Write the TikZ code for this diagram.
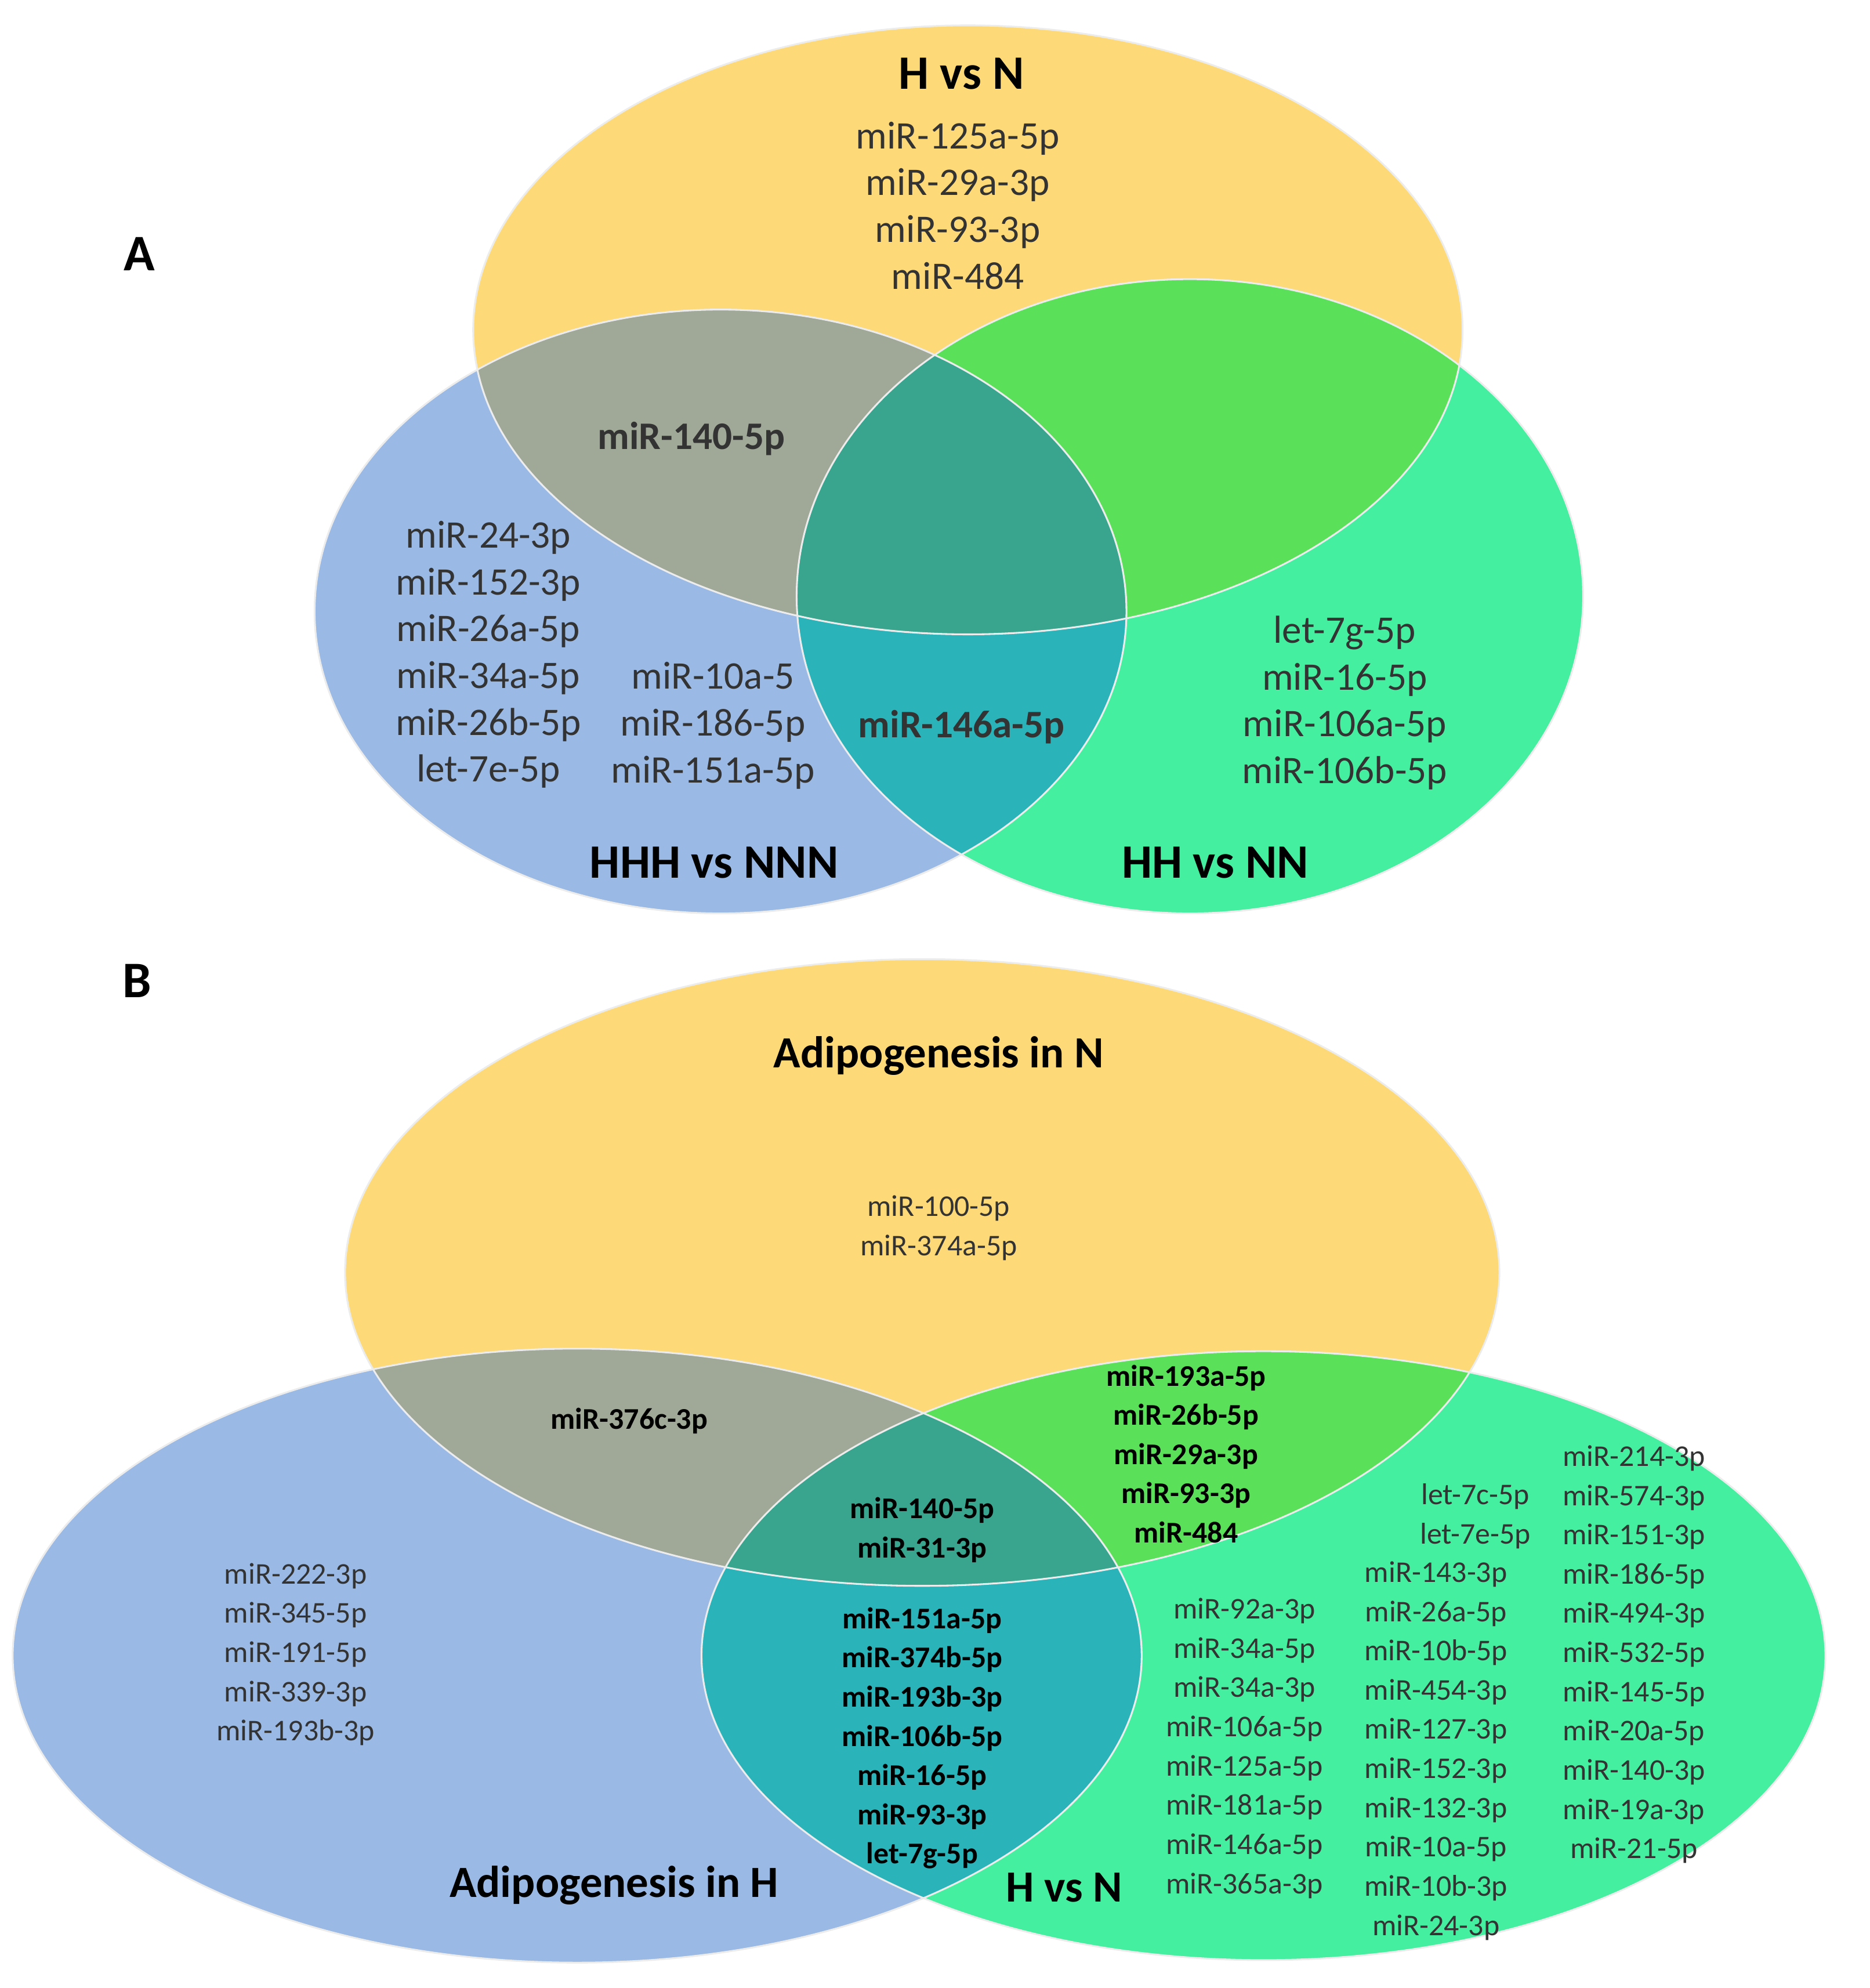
\documentclass[tikz,border=0pt]{standalone}
\usepackage{fontspec}
\setmainfont{Carlito}
\begin{document}
\begin{tikzpicture}[x=0.02cm,y=-0.02cm,
  la/.style={text=black!80,align=center,font=\fontsize{17.5}{21}\selectfont,inner sep=0pt},
  lab/.style={la,font=\fontsize{17.5}{21}\selectfont\bfseries},
  lb/.style={text=black!80,align=center,font=\fontsize{13.5}{17.6}\selectfont,inner sep=0pt},
  lbb/.style={lb,font=\fontsize{13.5}{17.6}\selectfont\bfseries,text=black},
  ttl/.style={text=black,font=\fontsize{21.5}{24}\selectfont\bfseries,inner sep=0pt},
  ttlb/.style={ttl,font=\fontsize{20}{23}\selectfont\bfseries}]
\definecolor{cy}{HTML}{FDD978}
\definecolor{cb}{HTML}{9AB9E4}
\definecolor{cg}{HTML}{45EFA0}
\definecolor{cyb}{HTML}{A0A898}
\definecolor{cyg}{HTML}{5BE05A}
\definecolor{cbg}{HTML}{2AB3B8}
\definecolor{cybg}{HTML}{3AA58E}
\path[use as bounding box] (0,0) rectangle (1474,1567);
% Panel A
\def\Ya{(763,260) ellipse [x radius=390,y radius=240]}
\def\Ba{(568,482) ellipse [x radius=320,y radius=238]}
\def\Ga{(938,470) ellipse [x radius=310,y radius=250]}
\fill[cy] \Ya; \fill[cb] \Ba; \fill[cg] \Ga;
\begin{scope}\clip \Ya; \fill[cyb] \Ba; \fill[cyg] \Ga; \end{scope}
\begin{scope}\clip \Ba; \fill[cbg] \Ga; \end{scope}
\begin{scope}\clip \Ya; \clip \Ba; \fill[cybg] \Ga; \end{scope}
\draw[white!85!gray,line width=0.8pt] \Ya \Ba \Ga;
\node[ttl,font=\fontsize{23}{26}\selectfont\bfseries] (A) at (110,200) {A};
\node[ttl] (t1) at (758,58) {H vs N};
\node[la] (y1) at (755,162) {miR-125a-5p\\miR-29a-3p\\miR-93-3p\\miR-484};
\node[lab] (yb) at (545,346) {miR-140-5p};
\node[la] (b1) at (385,516) {miR-24-3p\\miR-152-3p\\miR-26a-5p\\miR-34a-5p\\miR-26b-5p\\let-7e-5p};
\node[la] (b2) at (562,572) {miR-10a-5\\miR-186-5p\\miR-151a-5p};
\node[lab] (bg) at (758,573) {miR-146a-5p};
\node[la] (g1) at (1060,554) {let-7g-5p\\miR-16-5p\\miR-106a-5p\\miR-106b-5p};
\node[ttl] (t2) at (563,680) {HHH vs NNN};
\node[ttl] (t3) at (958,680) {HH vs NN};
% Panel B
\def\Yb{(727,1003) ellipse [x radius=455,y radius=247]}
\def\Bb{(455,1305) ellipse [x radius=445,y radius=242]}
\def\Gb{(996,1305) ellipse [x radius=443,y radius=240]}
\fill[cy] \Yb; \fill[cb] \Bb; \fill[cg] \Gb;
\begin{scope}\clip \Yb; \fill[cyb] \Bb; \fill[cyg] \Gb; \end{scope}
\begin{scope}\clip \Bb; \fill[cbg] \Gb; \end{scope}
\begin{scope}\clip \Yb; \clip \Bb; \fill[cybg] \Gb; \end{scope}
\draw[white!85!gray,line width=0.8pt] \Yb \Bb \Gb;
\node[ttl,font=\fontsize{23}{26}\selectfont\bfseries] (B) at (108,773) {B};
\node[ttlb] (t4) at (740,832) {Adipogenesis in N};
\node[lb] (n1) at (740,968) {miR-100-5p\\miR-374a-5p};
\node[lbb] (n2) at (496,1120) {miR-376c-3p};
\node[lbb] (n3) at (935,1146) {miR-193a-5p\\miR-26b-5p\\miR-29a-3p\\miR-93-3p\\miR-484};
\node[lbb] (n4) at (727,1206) {miR-140-5p\\miR-31-3p};
\node[lbb] (n5) at (727,1370) {miR-151a-5p\\miR-374b-5p\\miR-193b-3p\\miR-106b-5p\\miR-16-5p\\miR-93-3p\\let-7g-5p};
\node[lb] (n6) at (233,1304) {miR-222-3p\\miR-345-5p\\miR-191-5p\\miR-339-3p\\miR-193b-3p};
\node[lb] (n7) at (981,1378) {miR-92a-3p\\miR-34a-5p\\miR-34a-3p\\miR-106a-5p\\miR-125a-5p\\miR-181a-5p\\miR-146a-5p\\miR-365a-3p};
\node[lb] (n8) at (1163,1195) {let-7c-5p\\let-7e-5p};
\node[lb] (n9) at (1132,1380) {miR-143-3p\\miR-26a-5p\\miR-10b-5p\\miR-454-3p\\miR-127-3p\\miR-152-3p\\miR-132-3p\\miR-10a-5p\\miR-10b-3p\\miR-24-3p};
\node[lb] (n10) at (1288,1304) {miR-214-3p\\miR-574-3p\\miR-151-3p\\miR-186-5p\\miR-494-3p\\miR-532-5p\\miR-145-5p\\miR-20a-5p\\miR-140-3p\\miR-19a-3p\\miR-21-5p};
\node[ttlb] (t5) at (484,1486) {Adipogenesis in H};
\node[ttlb] (t6) at (839,1488) {H vs N};
\end{tikzpicture}
\end{document}
